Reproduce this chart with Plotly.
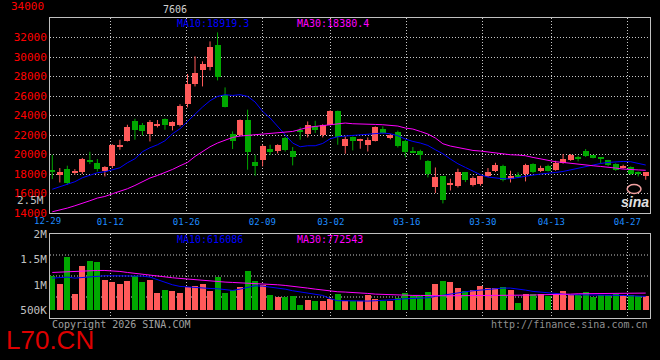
import plotly.graph_objects as go

# ---------------- data ----------------
dates = ['12-29', '12-30', '12-31', '01-05', '01-06', '01-07', '01-08', '01-09', '01-12', '01-13',
         '01-14', '01-15', '01-16', '01-19', '01-20', '01-21', '01-22', '01-23', '01-26', '01-27',
         '01-28', '01-29', '01-30', '02-02', '02-03', '02-04', '02-05', '02-06', '02-09', '02-10',
         '02-11', '02-12', '02-13', '02-24', '02-25', '02-26', '02-27', '03-02', '03-03', '03-04',
         '03-05', '03-06', '03-09', '03-10', '03-11', '03-12', '03-13', '03-16', '03-17', '03-18',
         '03-19', '03-20', '03-23', '03-24', '03-25', '03-26', '03-27', '03-30', '03-31', '04-01',
         '04-02', '04-03', '04-07', '04-08', '04-09', '04-10', '04-13', '04-14', '04-15', '04-16',
         '04-17', '04-20', '04-21', '04-22', '04-23', '04-24', '04-27', '04-28', '04-29', '04-30']

open_ = [18300, 17960, 18540, 18200, 18180, 19460, 19150, 18260, 18780, 20830,
         21340, 23460, 23050, 22130, 22980, 23670, 22950, 23050, 25210, 27260,
         28620, 28930, 31260, 26060, 22100, 21950, 23560, 19250, 19390, 20520,
         20320, 21700, 20310, 22460, 22130, 22950, 22030, 23050, 24490, 20900,
         21750, 21480, 21000, 21410, 22640, 21690, 22300, 21410, 20380, 20310,
         19360, 16620, 17750, 16930, 16800, 18160, 16900, 17000, 17820, 18260,
         18770, 17480, 17850, 18030, 19050, 18260, 18770, 18440, 19120, 19390,
         19630, 20310, 19900, 19620, 19390, 19050, 18610, 18710, 18160, 17750]

high = [19970, 18610, 18850, 18500, 19650, 20280, 19540, 18800, 21050, 21510,
        23050, 23670, 23230, 23535, 23535, 23700, 23400, 25150, 28255, 30060,
        29550, 31600, 32520, 26880, 22370, 23600, 24600, 19970, 21000, 21000,
        21050, 21800, 20765, 22776, 23390, 23460, 23100, 24550, 24500, 21850,
        21850, 21620, 21750, 22880, 22880, 22100, 22450, 21510, 20765, 20490,
        19420, 18670, 17800, 17510, 18540, 18200, 17750, 17800, 18610, 19150,
        18950, 18330, 18180, 19050, 19100, 18850, 18950, 19350, 20050, 20050,
        19870, 20560, 19950, 19650, 19450, 19100, 18950, 18780, 18260, 18200]

low = [17480, 17130, 16900, 17920, 18000, 19020, 18260, 17750, 18600, 20490,
       21340, 21510, 21950, 21340, 22780, 22540, 22470, 22880, 24830, 26980,
       26980, 28620, 27600, 24830, 20560, 21900, 18440, 17820, 18780, 19970,
       20100, 20300, 18880, 21513, 21750, 22200, 21750, 23000, 21000, 20080,
       20420, 20590, 20310, 21340, 22130, 21550, 20720, 19700, 20150, 19460,
       17650, 16045, 14980, 16310, 16620, 17170, 16720, 16800, 17690, 18200,
       17240, 17130, 17580, 17240, 18100, 18200, 18260, 18330, 19050, 19350,
       19290, 19750, 19600, 19100, 18800, 18330, 18550, 17920, 17750, 17410]

close = [18250, 18160, 17070, 18330, 19500, 19190, 18550, 18740, 21000, 21000,
         22780, 22540, 22440, 23290, 23120, 23050, 23330, 24980, 27260, 28390,
         29310, 30980, 27900, 24830, 21340, 23560, 20210, 18780, 20900, 20210,
         21000, 20490, 19700, 22400, 23050, 22540, 23050, 24490, 21750, 21620,
         21340, 21590, 21510, 22780, 22200, 22030, 20830, 20210, 20250, 19900,
         18000, 17650, 15290, 17070, 18160, 17410, 17580, 17750, 18160, 18950,
         17410, 17820, 17750, 18950, 18160, 18610, 18330, 19180, 19560, 19970,
         19540, 19800, 19640, 19560, 18880, 18440, 18850, 18000, 18060, 18160]

ma10 = [16435, 16691, 16897, 17204, 17615, 17871, 18128, 18230, 18436, 18641,
        19154, 19564, 20283, 20693, 21000, 21410, 22129, 22642, 23391, 24181,
        24869, 25515, 25956, 26131, 26059, 26131, 25956, 25382, 24417, 23740,
        22878, 21955, 21175, 20795, 20898, 20898, 21134, 21616, 21821, 21893,
        21955, 22026, 22129, 22201, 22201, 22129, 21924, 21585, 21340, 21175,
        20929, 20487, 20077, 19534, 19051, 18672, 18261, 17923, 17687, 17584,
        17512, 17512, 17645, 17820, 17892, 17995, 18056, 18159, 18261, 18436,
        18610, 18774, 18949, 19082, 19185, 19256, 19287, 19256, 19082, 18919]

ma30 = [14126, 14300, 14506, 14742, 14978, 15255, 15532, 15696, 15973, 16209,
        16486, 16825, 17235, 17584, 17851, 18128, 18467, 18846, 19185, 19800,
        20313, 20795, 21175, 21483, 21750, 21893, 21955, 22026, 22098, 22160,
        22232, 22304, 22365, 22570, 22776, 22878, 22981, 23083, 23155, 23227,
        23155, 23155, 23124, 23083, 23052, 23022, 22919, 22714, 22611, 22365,
        22098, 21688, 21103, 20867, 20693, 20559, 20416, 20354, 20252, 20180,
        20077, 19974, 19943, 19872, 19698, 19534, 19359, 19256, 19185, 19082,
        19020, 18918, 18846, 18774, 18713, 18610, 18507, 18436, 18420, 18380]

volume = [1167000, 1023000, 1539000, 827000, 1376000, 1474000, 1454000, 1088000, 1062000, 1023000,
          1082000, 1167000, 1049000, 1088000, 846000, 905000, 873000, 846000, 964000, 984000,
          1010000, 873000, 1147000, 833000, 892000, 951000, 1265000, 1082000, 1003000, 794000,
          755000, 755000, 775000, 611000, 709000, 677000, 690000, 729000, 827000, 690000,
          690000, 677000, 794000, 729000, 690000, 690000, 742000, 846000, 775000, 775000,
          866000, 1023000, 1082000, 1062000, 944000, 873000, 905000, 984000, 938000, 938000,
          964000, 905000, 650000, 827000, 827000, 827000, 775000, 827000, 886000, 807000,
          807000, 866000, 761000, 807000, 807000, 827000, 794000, 807000, 775000, 788000]

vol_ma10 = [1134000, 1147000, 1154000, 1134000, 1147000, 1167000, 1180000, 1180000, 1180000, 1180000,
            1180000, 1180000, 1173000, 1154000, 1101000, 1049000, 1003000, 971000, 958000, 944000,
            938000, 931000, 925000, 905000, 892000, 918000, 951000, 984000, 977000, 958000,
            938000, 918000, 886000, 866000, 840000, 814000, 794000, 729000, 690000, 690000,
            683000, 677000, 683000, 690000, 696000, 703000, 716000, 729000, 735000, 742000,
            748000, 775000, 794000, 820000, 840000, 866000, 886000, 899000, 918000, 931000,
            938000, 938000, 925000, 899000, 873000, 860000, 840000, 827000, 814000, 807000,
            807000, 807000, 807000, 801000, 801000, 794000, 794000, 788000, 781000, 775000]

vol_ma30 = [1245000, 1252000, 1265000, 1271000, 1278000, 1284000, 1284000, 1284000, 1278000, 1265000,
            1245000, 1226000, 1206000, 1186000, 1167000, 1154000, 1141000, 1128000, 1114000, 1101000,
            1088000, 1075000, 1062000, 1056000, 1049000, 1043000, 1036000, 1036000, 1029000, 1016000,
            1003000, 990000, 977000, 958000, 938000, 918000, 899000, 879000, 866000, 860000,
            846000, 840000, 833000, 820000, 814000, 801000, 801000, 794000, 794000, 794000,
            788000, 788000, 788000, 788000, 788000, 788000, 788000, 788000, 788000, 788000,
            788000, 794000, 794000, 794000, 801000, 807000, 807000, 814000, 814000, 820000,
            827000, 827000, 833000, 833000, 833000, 840000, 840000, 840000, 840000, 840000]

tick_dates = ['01-12', '01-26', '02-09', '03-02', '03-16', '03-30', '04-13', '04-27']
first_date_label = '12-29'
price_ticks = [14000, 16000, 18000, 20000, 22000, 24000, 26000, 28000, 30000, 32000]
vol_ticks = [500000, 1000000, 1500000, 2000000]
vol_tick_text = ['500K', '1M', '1.5M', '2M']

# ---------------- styling ----------------
RED = '#ff5a5a'
GREEN = '#00a800'
MA10_C = '#0000ff'
MA30_C = '#ff00ff'
GRID = '#c8c8c8'
FRAME = '#c0c0c0'
MONO = 'DejaVu Sans Mono'
AXF = 'DejaVu Sans Mono'
VOL_BASE = 500000

n = len(dates)
idx = list(range(n))
up = [c >= o for o, c in zip(open_, close)]
colors = [RED if u else GREEN for u in up]

fig = go.Figure()

# wicks
for col, flag in ((RED, True), (GREEN, False)):
    xs, ys = [], []
    for i in idx:
        if up[i] == flag:
            xs += [i, i, None]
            ys += [low[i], high[i], None]
    fig.add_trace(go.Scatter(x=xs, y=ys, mode='lines', line=dict(color=col, width=1),
                             hoverinfo='skip', showlegend=False, xaxis='x', yaxis='y'))

# bodies
body_low = [min(o, c) for o, c in zip(open_, close)]
body_h = [max(abs(c - o), 110) for o, c in zip(open_, close)]
fig.add_trace(go.Bar(x=idx, y=body_h, base=body_low, width=0.8,
                     marker=dict(color=colors, line=dict(width=0)),
                     showlegend=False, xaxis='x', yaxis='y'))

fig.add_trace(go.Scatter(x=idx, y=ma10, mode='lines', line=dict(color=MA10_C, width=1),
                         showlegend=False, xaxis='x', yaxis='y'))
fig.add_trace(go.Scatter(x=idx, y=ma30, mode='lines', line=dict(color=MA30_C, width=1),
                         showlegend=False, xaxis='x', yaxis='y'))

# volume
fig.add_trace(go.Bar(x=idx, y=[v - VOL_BASE for v in volume], base=VOL_BASE, width=0.8,
                     marker=dict(color=colors, line=dict(width=0)),
                     showlegend=False, xaxis='x2', yaxis='y2'))
fig.add_trace(go.Scatter(x=idx, y=vol_ma10, mode='lines', line=dict(color=MA10_C, width=1),
                         showlegend=False, xaxis='x2', yaxis='y2'))
fig.add_trace(go.Scatter(x=idx, y=vol_ma30, mode='lines', line=dict(color=MA30_C, width=1),
                         showlegend=False, xaxis='x2', yaxis='y2'))

# date grid positions (grid runs on a slightly wider step than the candles)
tick_pos = [dates.index(d) * 1.0122 - 0.373 for d in tick_dates]
xr = [-0.306, 79.57]

common_x = dict(range=xr, tickvals=tick_pos, showgrid=True, gridcolor=GRID, gridwidth=1,
                griddash='1px,2px', zeroline=False, showline=True, mirror=True,
                linecolor=FRAME, linewidth=1, ticks='', automargin=False, fixedrange=True)

fig.update_layout(
    width=660, height=360,
    margin=dict(l=50, r=10, t=18, b=42),
    paper_bgcolor='black', plot_bgcolor='black',
    showlegend=False, bargap=0,
    xaxis=dict(domain=[0, 1], anchor='y', ticktext=tick_dates,
               tickfont=dict(family=MONO, size=9, color='#1e8cff'), **common_x),
    yaxis=dict(domain=[0.35, 1], anchor='x', range=[14000, 34000], tickvals=price_ticks,
               ticktext=[str(t) for t in price_ticks],
               tickfont=dict(family=AXF, size=11, color='#ff0000'),
               showgrid=True, gridcolor=GRID, gridwidth=1, griddash='1px,2px',
               zeroline=False, showline=True, mirror=True, linecolor=FRAME, linewidth=1,
               ticks='', automargin=False, fixedrange=True),
    xaxis2=dict(domain=[0, 1], anchor='y2', showticklabels=False, **common_x),
    yaxis2=dict(domain=[0, 0.28], anchor='x2', range=[351000, 2000000], tickvals=vol_ticks,
                ticktext=vol_tick_text, tickfont=dict(family=AXF, size=11, color='#c0c0c0'),
                showgrid=False, zeroline=False, showline=True, mirror=True,
                linecolor=FRAME, linewidth=1, ticks='', automargin=False, fixedrange=True),
)

# volume panel horizontal grid (evenly divides the panel)
for f in (0.25, 0.5, 0.75):
    fig.add_shape(type='line', xref='x2 domain', yref='y2 domain', x0=0, x1=1, y0=f, y1=f,
                  line=dict(color=GRID, width=1, dash='1px,2px'), layer='below')

def ann(text, x, y, color, size=10, xanchor='left', family=MONO, **kw):
    fig.add_annotation(text=text, x=x, y=y, xref='paper', yref='paper', showarrow=False,
                       xanchor=xanchor, yanchor='middle',
                       font=dict(family=family, size=size, color=color), **kw)

ann('7606', 0.2083, 1.027, '#d0d0d0', size=10, xanchor='center')
ann('MA10:18919.3', 0.2083, 0.981, MA10_C)
ann('MA30:18380.4', 0.4083, 0.981, MA30_C)
ann('MA10:616086', 0.2083, 0.263, MA10_C)
ann('MA30:772543', 0.4083, 0.263, MA30_C)
ann('34000', -0.0067, 1.037, '#ff0000', size=11, xanchor='right', family=AXF)
ann('2.5M', -0.0067, 0.391, '#c0c0c0', size=11, xanchor='right', family=AXF)
ann(first_date_label, -0.0042, 0.323, '#1e8cff', size=9, xanchor='center')
ann('Copyright 2026 SINA.COM', 0.0, -0.02, '#a0a0a0', size=10)
ann('http://finance.sina.com.cn', 1.0, -0.02, '#909090', size=10, xanchor='right')
ann('L70.CN', -0.077, -0.072, '#dd0000', size=26, family='Liberation Sans, Arial')
ann('<b><i>sina</i></b>', 0.975, 0.388, '#e0e0e0', size=14, xanchor='center',
    family='Liberation Sans, Arial')
fig.add_shape(type='circle', xref='paper', yref='paper', x0=0.962, x1=0.985, y0=0.415, y1=0.445,
              line=dict(color='#f0a0a0', width=1.5))

# remove the page's default body margin so the figure sits at the window's corner
fig.write_html('out.html', config={'displayModeBar': False},
               post_script="document.body.style.margin='0px';")
